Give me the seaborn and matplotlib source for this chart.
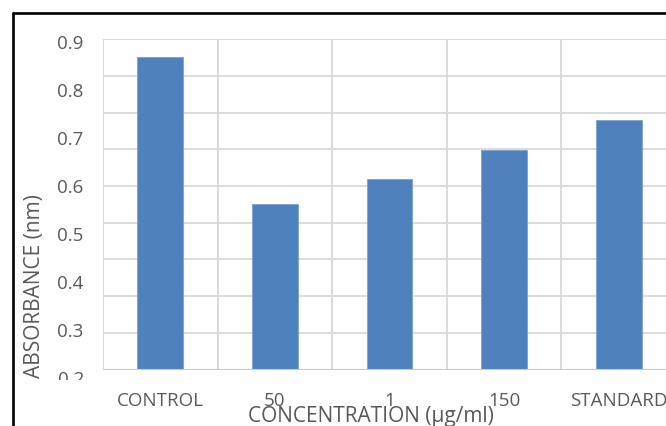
import numpy as np
import pandas as pd
import matplotlib
matplotlib.use("Agg")
import matplotlib.pyplot as plt
import seaborn as sns
from matplotlib.lines import Line2D
from matplotlib.transforms import Bbox

categories = ["CONTROL", "50", "1", "150", "STANDARD"]
absorbance = [0.868, 0.561, 0.614, 0.675, 0.737]
y_tick_values = [0.3, 0.4, 0.5, 0.6, 0.7, 0.8, 0.9]
y_tick_labels = ["0.3", "0.4", "0.5", "0.6", "0.7", "0.8", "0.9"]
x_title = "CONCENTRATION (µg/ml)"
y_title = "ABSORBANCE (nm)"

sns.set_style("white")
plt.rcParams["font.family"] = ["Open Sans", "DejaVu Sans"]

W, H = 666, 426
fig = plt.figure(figsize=(W / 100, H / 100), dpi=100)
ax = fig.add_axes([103 / W, (H - 369.5) / H, 573 / W, 330.2 / H])

df = pd.DataFrame({"cat": categories, "val": absorbance})
sns.barplot(data=df, x="cat", y="val", order=categories, color="#4F81BD",
            saturation=1, width=0.4, edgecolor="#7BA0CF", linewidth=0.6,
            ax=ax, zorder=3)

ax.set_xlim(-0.5, len(categories) - 0.5)
ax.set_ylim(0.217, 0.905)

# grid: 10 evenly spaced horizontal lines, vertical lines at category boundaries
ax.hlines(np.linspace(0, 1, 10), 0, 1, transform=ax.transAxes,
          colors="#D9D9D9", linewidth=1.3, zorder=1)
ax.set_xticks(np.arange(-0.5, len(categories), 1.0), minor=True)
ax.grid(True, which="minor", axis="x", color="#D9D9D9", linewidth=1.3, zorder=1)
ax.grid(False, which="major")
ax.hlines([0], 0, 1, transform=ax.transAxes, colors="#C8C8C8", linewidth=1.5, zorder=4)

for s in ax.spines.values():
    s.set_visible(False)

ax.set_yticks(y_tick_values)
ax.set_yticklabels(y_tick_labels)
ax.tick_params(axis="y", length=0, pad=14, labelsize=13.5, labelcolor="#595959")
ax.tick_params(axis="x", which="both", length=0, pad=16, labelsize=13.5, labelcolor="#595959")
ax.set_xlabel("")
ax.set_ylabel("")

# clipped "0.2" label at the cut-off bottom
t02 = ax.text(-19 / 573, 0.2, "0.2", transform=ax.get_yaxis_transform(),
              ha="right", va="center_baseline", fontsize=13.5, color="#595959")
t02.set_clip_box(Bbox.from_extents(0, H - 380, W, H))
t02.set_clip_on(True)

fig.text(371 / W, (H - 421.7) / H, x_title, ha="center", va="baseline",
         fontsize=15, color="#595959")
fig.text(35 / W, (H - 286) / H, y_title, ha="center", va="center",
         rotation=90, fontsize=15, color="#595959")

# black frame at top and left (cropped screenshot)
fig.add_artist(Line2D([12.5 / W, 1.0], [(H - 13) / H, (H - 13) / H],
                      transform=fig.transFigure, color="black", linewidth=1.9))
fig.add_artist(Line2D([12.5 / W, 12.5 / W], [(H - 13) / H, 0.0],
                      transform=fig.transFigure, color="black", linewidth=1.9))

fig.savefig("out.png", dpi=100, facecolor="white")
